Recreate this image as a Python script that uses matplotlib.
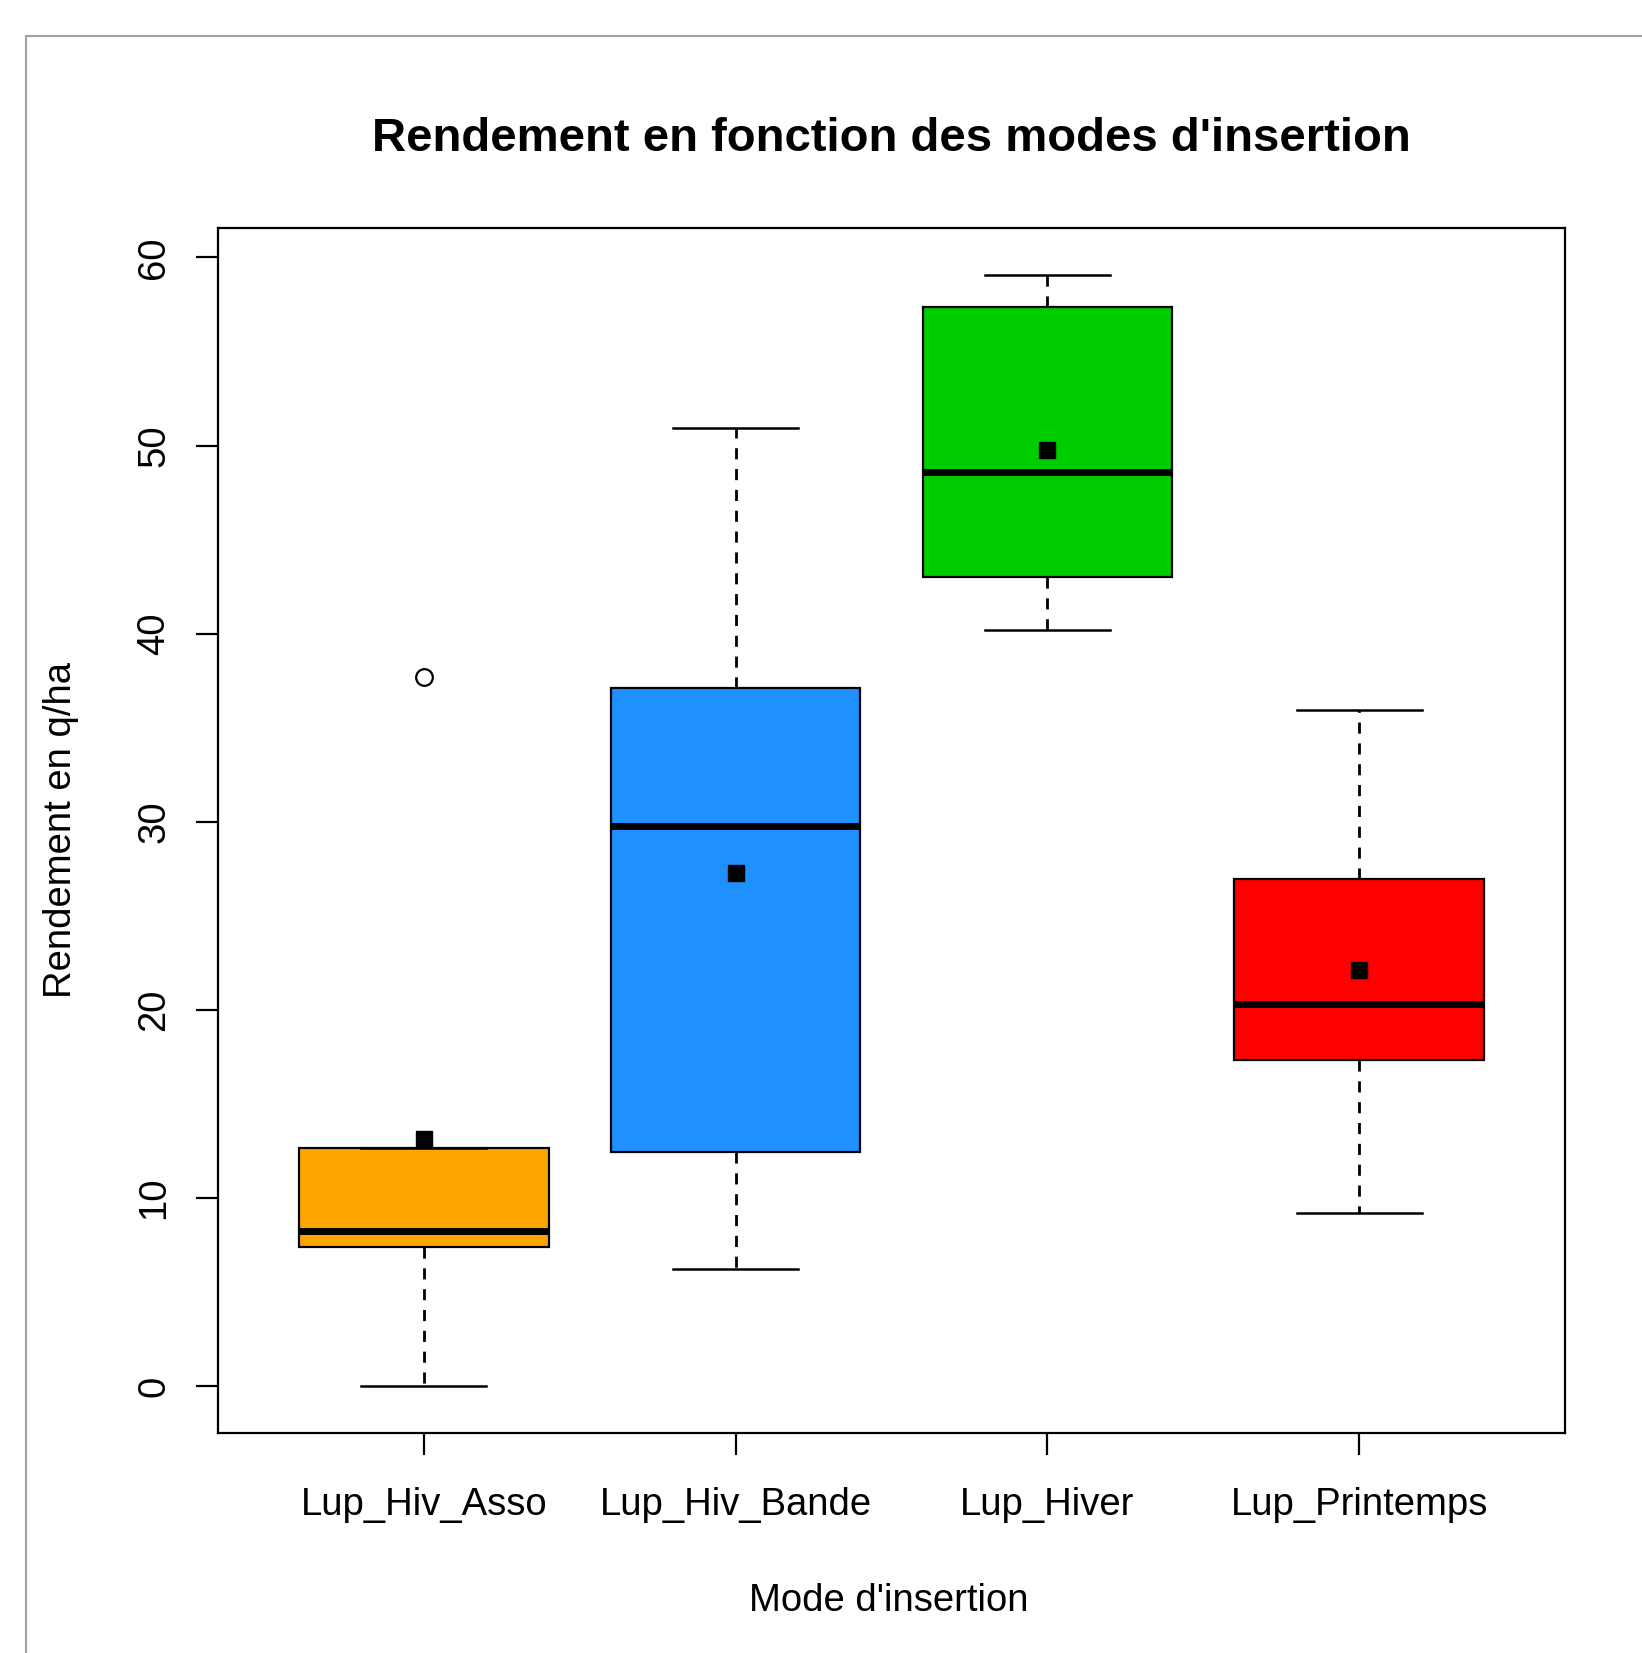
import matplotlib.pyplot as plt
from matplotlib.lines import Line2D

plt.rcParams["font.family"] = ["Liberation Sans", "DejaVu Sans"]

# values (q/ha)
modes = ["Lup_Hiv_Asso", "Lup_Hiv_Bande", "Lup_Hiver", "Lup_Printemps"]
colors = ["#FFA500", "#1E90FF", "#00CD00", "#FF0000"]
whis_low = [0.0, 6.23, 40.20, 9.19]
q1 = [7.38, 12.44, 43.03, 17.33]
medians = [8.26, 29.76, 48.61, 20.30]
q3 = [12.67, 37.12, 57.37, 26.98]
whis_high = [12.67, 50.93, 59.07, 35.93]
means = [13.17, 27.28, 49.76, 22.12]
outliers = [[37.72], [], [], []]
yticks = [0, 10, 20, 30, 40, 50, 60]

stats = []
for i, name in enumerate(modes):
    stats.append({
        "label": name,
        "whislo": whis_low[i],
        "q1": q1[i],
        "med": medians[i],
        "q3": q3[i],
        "whishi": whis_high[i],
        "mean": means[i],
        "fliers": outliers[i],
    })

W, H = 1642, 1653
fig = plt.figure(figsize=(W / 100, H / 100), dpi=100)
ax = fig.add_axes([218 / W, 1 - 1433 / H, (1565 - 218) / W, (1433 - 228) / H])

bp = ax.bxp(
    stats,
    positions=[1, 2, 3, 4],
    widths=0.8,
    capwidths=0.4,
    patch_artist=True,
    showmeans=True,
    boxprops=dict(edgecolor="black", linewidth=1.6),
    medianprops=dict(color="black", linewidth=5, solid_capstyle="butt"),
    whiskerprops=dict(color="black", linewidth=2, linestyle=(0, (4, 3.5))),
    capprops=dict(color="black", linewidth=1.8),
    meanprops=dict(marker="s", markerfacecolor="black", markeredgecolor="black", markersize=11),
    flierprops=dict(marker="o", markerfacecolor="none", markeredgecolor="black",
                    markersize=12, markeredgewidth=1.6),
)
for patch, c in zip(bp["boxes"], colors):
    patch.set_facecolor(c)

ax.set_xlim(0.34, 4.66)
ax.set_ylim(-2.48, 61.56)
ax.set_yticks(yticks)
ax.set_yticklabels([str(v) for v in yticks], rotation=90, va="center")
ax.tick_params(axis="both", length=16, width=1.6, labelsize=27.5, color="black")
ax.tick_params(axis="x", pad=23)
ax.tick_params(axis="y", pad=17)
for s in ax.spines.values():
    s.set_linewidth(1.6)

fig.text(891 / W, 1 - 139 / H, "Rendement en fonction des modes d'insertion",
         ha="center", va="center", fontsize=34, fontweight="bold")
fig.text(889 / W, 1 - 1601 / H, "Mode d'insertion", ha="center", va="center", fontsize=27.5)
fig.text(61 / W, 1 - 830 / H, "Rendement en q/ha", ha="center", va="center",
         rotation=90, fontsize=27.5)

# grey window frame on the left and top
fig.add_artist(Line2D([26 / W, 26 / W], [0, 1 - 36 / H], transform=fig.transFigure,
                      color="#a0a0a0", linewidth=1.5))
fig.add_artist(Line2D([26 / W, 1], [1 - 36 / H, 1 - 36 / H], transform=fig.transFigure,
                      color="#a0a0a0", linewidth=1.5))

fig.savefig("out.png", dpi=100)
